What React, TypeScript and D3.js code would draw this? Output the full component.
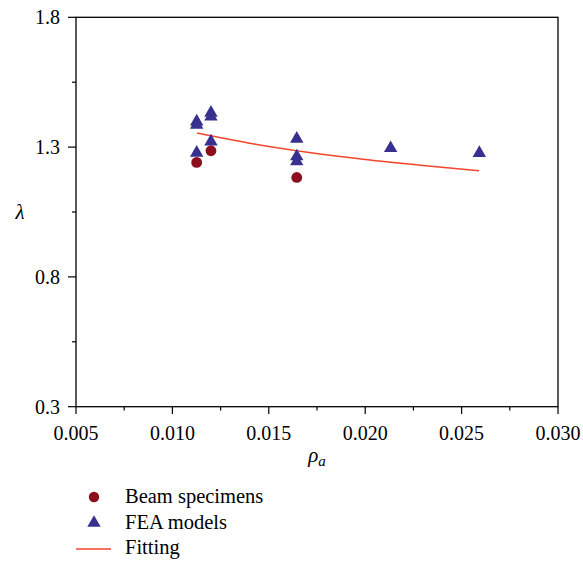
import React from "react";
import * as d3 from "d3";

const beamX = [0.01126, 0.0120, 0.01645];
const beamY = [1.241, 1.286, 1.183];

const feaX = [0.01126, 0.01126, 0.0120, 0.0120, 0.0120, 0.01126, 0.01645, 0.01645, 0.01645, 0.02132, 0.02592];
const feaY = [1.3985, 1.386, 1.432, 1.417, 1.3215, 1.278, 1.332, 1.264, 1.245, 1.296, 1.277];

const fitX = [0.01128, 0.0140, 0.0170, 0.0200, 0.0230, 0.0259];
const fitY = [1.354, 1.315, 1.280, 1.252, 1.229, 1.209];

const xTicks = [0.005, 0.010, 0.015, 0.020, 0.025, 0.030];
const xMinor = [0.0075, 0.0125, 0.0175, 0.0225, 0.0275];
const yTicks = [0.3, 0.8, 1.3, 1.8];
const yMinor = [0.55, 1.05, 1.55];

const legendLabels = ["Beam specimens", "FEA models", "Fitting"];

const TRI = "#37308f";
const CIR = "#8b0f1c";
const LINE = "#f5452a";

const CSS = `
html body #root svg#chartsvg text, html body #root svg#chartsvg tspan {
  font-family: "Liberation Serif", "Tinos", "Times New Roman", serif !important;
}
`;

export default function App() {
  const x = d3.scaleLinear().domain([0.005, 0.03]).range([76, 558]);
  const y = d3.scaleLinear().domain([0.3, 1.8]).range([406.7, 17.3]);
  const tri = d3.symbol(d3.symbolTriangle, 78)();
  const fitData = fitX.map((v, i) => [v, fitY[i]] as [number, number]);
  const line = d3
    .line<[number, number]>()
    .x((d) => x(d[0]))
    .y((d) => y(d[1]))
    .curve(d3.curveMonotoneX)(fitData);

  return (
    <svg id="chartsvg" width={583} height={568} style={{ position: "absolute", left: 0, top: 0 }}>
      <style>{CSS}</style>
      <rect x={0} y={0} width={583} height={568} fill="#fff" />
      <rect x={x(0.005)} y={y(1.8)} width={x(0.03) - x(0.005)} height={y(0.3) - y(1.8)} fill="none" stroke="#000" strokeWidth={1.3} />
      {yTicks.map((t) => (
        <text key={"yt" + t} x={60} y={y(t) + 7} textAnchor="end" fontSize={20} style={{ fontFamily: "Liberation Serif" }}>
          {t.toFixed(1)}
        </text>
      ))}
      {xTicks.map((t) => (
        <text key={"xt" + t} x={x(t)} y={440} textAnchor="middle" fontSize={20} style={{ fontFamily: "Liberation Serif" }}>
          {t.toFixed(3)}
        </text>
      ))}
      <text x={317} y={462} textAnchor="middle" fontSize={21} fontStyle="italic" style={{ fontFamily: "Liberation Serif" }}>
        ρ<tspan fontSize={15} dy={4}>a</tspan>
      </text>
      <text x={20} y={219} textAnchor="middle" fontSize={21} fontStyle="italic" style={{ fontFamily: "Liberation Serif" }}>
        λ
      </text>
      {legendLabels.map((l, i) => (
        <text key={l} x={125} y={503 + i * 25.5} fontSize={20.5} style={{ fontFamily: "Liberation Serif" }}>
          {l}
        </text>
      ))}
      {yTicks.map((t) => (
        <line key={"y" + t} x1={68} x2={76} y1={y(t)} y2={y(t)} stroke="#000" strokeWidth={1.2} />
      ))}
      {yMinor.map((t) => (
        <line key={"ym" + t} x1={72} x2={76} y1={y(t)} y2={y(t)} stroke="#000" strokeWidth={1.2} />
      ))}
      {xTicks.map((t) => (
        <line key={"x" + t} x1={x(t)} x2={x(t)} y1={406.7} y2={414} stroke="#000" strokeWidth={1.2} />
      ))}
      {xMinor.map((t) => (
        <line key={"xm" + t} x1={x(t)} x2={x(t)} y1={406.7} y2={410.5} stroke="#000" strokeWidth={1.2} />
      ))}
      <path d={line ?? ""} fill="none" stroke={LINE} strokeWidth={1.6} />
      {beamX.map((v, i) => (
        <circle key={"b" + i} cx={x(v)} cy={y(beamY[i])} r={5.4} fill={CIR} />
      ))}
      {feaX.map((v, i) => (
        <path key={"f" + i} d={tri ?? ""} transform={`translate(${x(v)},${y(feaY[i])})`} fill={TRI} />
      ))}
      <circle cx={94} cy={497} r={5.2} fill={CIR} />
      <path d={tri ?? ""} transform="translate(94,523)" fill={TRI} />
      <line x1={76} x2={111} y1={549} y2={549} stroke={LINE} strokeWidth={1.6} />
    </svg>
  );
}
